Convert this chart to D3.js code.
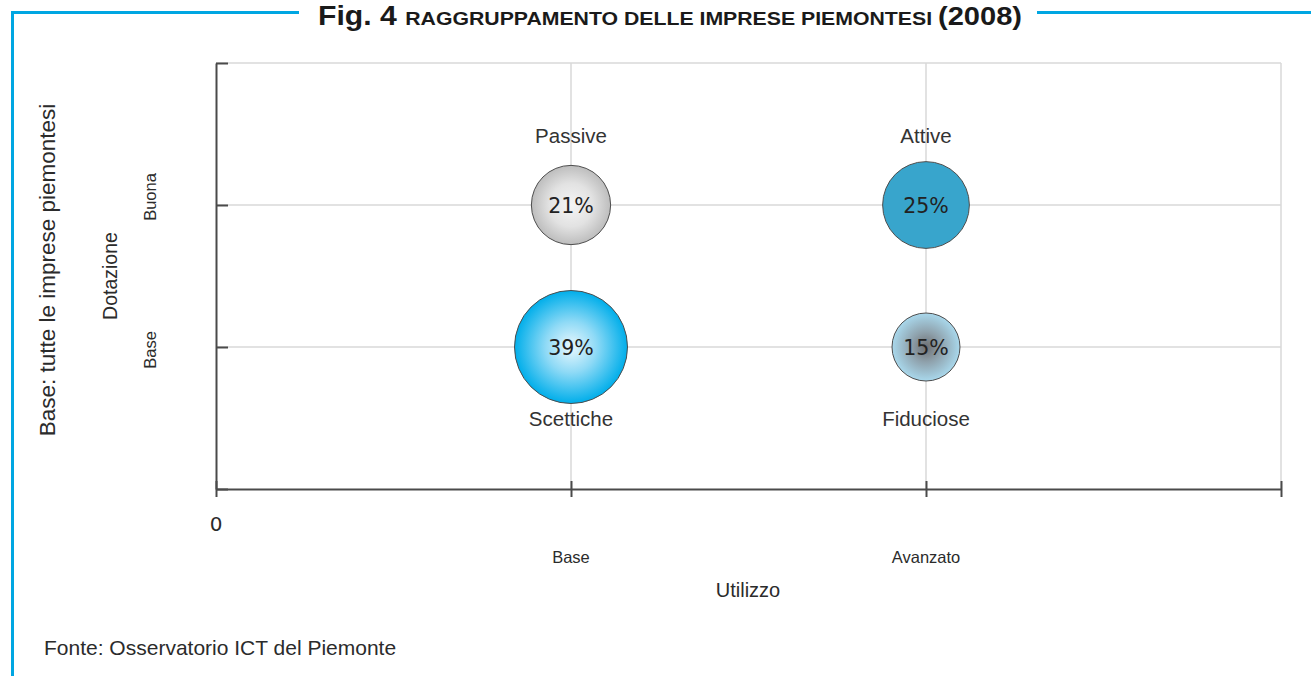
<!DOCTYPE html>
<html>
<head>
<meta charset="utf-8">
<script src="https://cdn.jsdelivr.net/npm/d3@7"></script>
<style>
  html, body { margin: 0; padding: 0; background: #fff; }
  svg { display: block; }
  text { font-family: "Liberation Sans", Arial, sans-serif; fill: #2b2b2b; }
</style>
</head>
<body>
<svg id="chart" width="1311" height="676"></svg>
<script>
// Cluster groups of Piedmont companies (2008)
const groups    = ["Passive", "Attive", "Scettiche", "Fiduciose"];
const utilizzo  = [1, 2, 1, 2];      // 1 = Base, 2 = Avanzato
const dotazione = [2, 2, 1, 1];      // 1 = Base, 2 = Buona
const shares    = [21, 25, 39, 15];  // % of companies

const xTickValues = [0, 1, 2, 3];
const xTickLabels = ["", "Base", "Avanzato", ""];
const yTickValues = [0, 1, 2, 3];
const yTickLabels = ["", "Base", "Buona", ""];

const svg = d3.select("#chart");
const blue = "#00a6e2";

// frame: blue rules around the title and down the left edge
svg.append("line").attr("x1", 11).attr("x2", 299).attr("y1", 12.5).attr("y2", 12.5)
  .attr("stroke", blue).attr("stroke-width", 3);
svg.append("line").attr("x1", 1037).attr("x2", 1311).attr("y1", 12.5).attr("y2", 12.5)
  .attr("stroke", blue).attr("stroke-width", 3);
svg.append("line").attr("x1", 12.5).attr("x2", 12.5).attr("y1", 11).attr("y2", 676)
  .attr("stroke", blue).attr("stroke-width", 3);

// title
const title = svg.append("text")
  .attr("x", 318).attr("y", 25)
  .attr("textLength", 704).attr("lengthAdjust", "spacingAndGlyphs")
  .style("font-family", "'Liberation Sans Narrow', 'Liberation Sans', Arial, sans-serif")
  .style("font-weight", "bold").style("fill", "#1a1a1a");
title.append("tspan").style("font-size", "27px").text("Fig. 4 ");
title.append("tspan").style("font-size", "19px").text("RAGGRUPPAMENTO DELLE IMPRESE PIEMONTESI ");
title.append("tspan").style("font-size", "26px").text("(2008)");

// plot area
const x = d3.scaleLinear().domain([0, 3]).range([216, 1281]);
const y = d3.scaleLinear().domain([0, 3]).range([489, 63]);
const r = d3.scaleLinear().domain([15, 39]).range([34, 56.5]);

// gridlines
const grid = svg.append("g").attr("stroke", "#d9d9d9").attr("stroke-width", 1.5);
grid.selectAll("line.v").data(xTickValues.slice(1)).join("line")
  .attr("x1", d => x(d)).attr("x2", d => x(d)).attr("y1", y(0)).attr("y2", y(3));
grid.selectAll("line.h").data(yTickValues.slice(1)).join("line")
  .attr("x1", x(0)).attr("x2", x(3)).attr("y1", d => y(d)).attr("y2", d => y(d));

// axes
const axisColor = "#4a4a4a";
const xAxis = svg.append("g").attr("transform", `translate(0,${y(0)})`)
  .call(d3.axisBottom(x).tickValues(xTickValues).tickFormat("").tickSizeOuter(0).tickSizeInner(8));
xAxis.select(".domain").attr("stroke", axisColor).attr("stroke-width", 2);
xAxis.selectAll(".tick line").attr("stroke", axisColor).attr("stroke-width", 2).attr("y1", -8);

const yAxis = svg.append("g").attr("transform", `translate(${x(0)},0)`)
  .call(d3.axisLeft(y).tickValues(yTickValues).tickFormat("").tickSizeOuter(0).tickSizeInner(7));
yAxis.select(".domain").attr("stroke", axisColor).attr("stroke-width", 2);
yAxis.selectAll(".tick line").attr("stroke", axisColor).attr("stroke-width", 2).attr("x2", 12);

// axis category labels
svg.append("g").selectAll("text").data(xTickValues).join("text")
  .attr("x", d => x(d)).attr("y", 563).attr("text-anchor", "middle")
  .style("font-size", "16.5px").text((d, i) => xTickLabels[i]);

svg.append("g").selectAll("text").data(yTickValues).join("text")
  .attr("transform", d => `translate(156,${y(d) + (d === 2 ? -8 : 3)}) rotate(-90)`)
  .attr("text-anchor", "middle")
  .style("font-size", "16.5px").text((d, i) => yTickLabels[i]);

svg.append("text").attr("x", x(0)).attr("y", 531).attr("text-anchor", "middle")
  .style("font-family", "'DejaVu Sans', sans-serif").style("font-size", "20px").text("0");

svg.append("text").attr("x", 748).attr("y", 597).attr("text-anchor", "middle")
  .style("font-size", "20px").text("Utilizzo");

svg.append("text").attr("transform", "translate(117,276) rotate(-90)")
  .attr("text-anchor", "middle").style("font-size", "19.5px").text("Dotazione");

svg.append("text").attr("transform", "translate(55,270) rotate(-90)")
  .attr("text-anchor", "middle").style("font-size", "22.5px").text("Base: tutte le imprese piemontesi");

svg.append("text").attr("x", 44).attr("y", 655)
  .style("font-size", "21px").text("Fonte: Osservatorio ICT del Piemonte");

// bubble fills
const defs = svg.append("defs");
function radial(id, stops) {
  const g = defs.append("radialGradient").attr("id", id)
    .attr("cx", "50%").attr("cy", "50%").attr("r", "50%");
  stops.forEach(([o, c]) => g.append("stop").attr("offset", o).attr("stop-color", c));
}
radial("g-passive", [["0%", "#f5f5f5"], ["55%", "#e2e2e2"], ["100%", "#bdbdbd"]]);
radial("g-scettiche", [["0%", "#eaf8fe"], ["45%", "#8fdaf6"], ["100%", "#00aeea"]]);
radial("g-fiduciose", [["0%", "#6f6f72"], ["45%", "#8fa2ad"], ["100%", "#a9d8ec"]]);
const fills = ["url(#g-passive)", "#38a5cc", "url(#g-scettiche)", "url(#g-fiduciose)"];

const idx = d3.range(groups.length);
const bubbles = svg.append("g");
bubbles.selectAll("circle").data(idx).join("circle")
  .attr("cx", i => x(utilizzo[i])).attr("cy", i => y(dotazione[i]))
  .attr("r", i => r(shares[i]))
  .attr("fill", i => fills[i])
  .attr("stroke", "#4d4d4d").attr("stroke-width", 1);

bubbles.selectAll("text.pct").data(idx).join("text").attr("class", "pct")
  .attr("x", i => x(utilizzo[i])).attr("y", i => y(dotazione[i]) + 8)
  .attr("text-anchor", "middle")
  .style("font-family", "'DejaVu Sans', sans-serif").style("font-size", "20.5px")
  .style("fill", "#222")
  .text(i => shares[i] + "%");

bubbles.selectAll("text.name").data(idx).join("text").attr("class", "name")
  .attr("x", i => x(utilizzo[i]))
  .attr("y", i => y(dotazione[i]) + (dotazione[i] === 2 ? -62 : 79))
  .attr("text-anchor", "middle")
  .style("font-size", "20.5px").style("fill", "#333")
  .text(i => groups[i]);
</script>
</body>
</html>
